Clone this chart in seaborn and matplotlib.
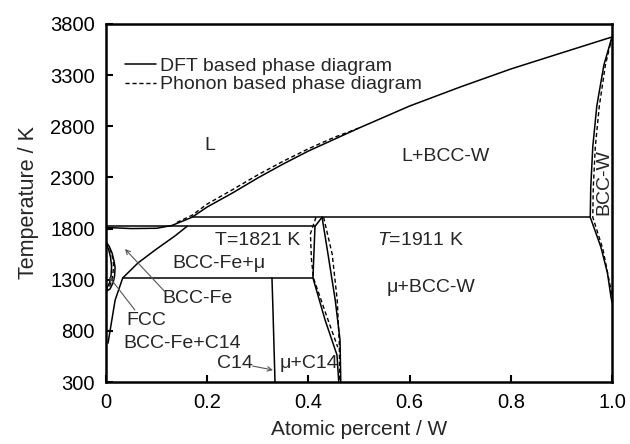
import numpy as np
import pandas as pd
import matplotlib
matplotlib.use("Agg")
import matplotlib.pyplot as plt
import seaborn as sns
from matplotlib.lines import Line2D

sns.set_theme(style="ticks")
plt.rcParams['font.family'] = ['Liberation Sans', 'DejaVu Sans']
plt.rcParams['mathtext.fontset'] = 'custom'
plt.rcParams['mathtext.it'] = 'Liberation Sans:italic'
plt.rcParams['mathtext.rm'] = 'Liberation Sans'

# ---------------- data (x = atomic fraction W, T in K) ----------------
# DFT based (solid)
liq_x = [0.0, 0.05, 0.10, 0.13, 0.16, 0.17, 0.20, 0.25, 0.30, 0.35, 0.40, 0.50, 0.60, 0.70, 0.80, 0.90, 1.0]
liq_T = [1811, 1800, 1803, 1830, 1890, 1911, 2011, 2148, 2295, 2431, 2558, 2783, 2998, 3184, 3360, 3517, 3673]

bccfe_x = [0.004, 0.008, 0.018, 0.033, 0.063, 0.097, 0.136, 0.16]
bccfe_T = [680, 800, 1100, 1317, 1463, 1590, 1727, 1821]

fcc_out_x = [0.0, 0.006, 0.012, 0.016, 0.018, 0.017, 0.014, 0.008, 0.0]
fcc_out_T = [1667, 1630, 1560, 1480, 1420, 1340, 1270, 1210, 1185]
fcc_in_x = [0.0, 0.005, 0.009, 0.011, 0.010, 0.007, 0.0]
fcc_in_T = [1650, 1600, 1520, 1430, 1340, 1270, 1200]

iso1821_x = [0.0, 0.413]
iso1821_T = [1821, 1821]
iso1911_x = [0.17, 0.957]
iso1911_T = [1911, 1911]
iso1317_x = [0.033, 0.409]
iso1317_T = [1317, 1317]

c14_x = [0.328, 0.330, 0.332, 0.334]
c14_T = [1317, 1000, 650, 300]

mu_left_x = [0.427, 0.413, 0.409, 0.433, 0.4565, 0.460]
mu_left_T = [1911, 1821, 1317, 906, 564, 300]
mu_right_x = [0.427, 0.439, 0.453, 0.4625, 0.464]
mu_right_T = [1911, 1542, 1102, 711, 300]

bccw_sol_x = [1.0, 0.984, 0.970, 0.962, 0.958, 0.957]
bccw_sol_T = [3673, 3400, 3000, 2600, 2200, 1911]
bccw_solv_x = [0.957, 0.978, 0.991, 0.998, 1.0]
bccw_solv_T = [1911, 1620, 1366, 1131, 1080]

# Phonon based (dashed)
liq_d_x = [0.14, 0.17, 0.20, 0.25, 0.30, 0.35, 0.40, 0.45, 0.50]
liq_d_T = [1860, 1930, 2040, 2180, 2325, 2458, 2580, 2690, 2783]

mu_left_d_x = [0.415, 0.404, 0.406, 0.410, 0.435, 0.458]
mu_left_d_T = [1911, 1750, 1500, 1317, 960, 640]
mu_right_d_x = [0.430, 0.447, 0.457, 0.461, 0.462]
mu_right_d_T = [1911, 1550, 1100, 680, 300]

bccw_d_x = [1.0, 0.987, 0.975, 0.967, 0.963, 0.962, 0.982, 0.994, 1.0]
bccw_d_T = [3673, 3400, 3000, 2600, 2200, 1911, 1600, 1300, 1150]

fcc_d_x = [0.0, 0.008, 0.014, 0.015, 0.012, 0.006, 0.0]
fcc_d_T = [1660, 1600, 1500, 1420, 1300, 1220, 1195]

solid_curves = {
    "liquidus": (liq_x, liq_T), "bccfe": (bccfe_x, bccfe_T),
    "fcc_out": (fcc_out_x, fcc_out_T), "fcc_in": (fcc_in_x, fcc_in_T),
    "iso1821": (iso1821_x, iso1821_T), "iso1911": (iso1911_x, iso1911_T),
    "iso1317": (iso1317_x, iso1317_T), "c14": (c14_x, c14_T),
    "mu_left": (mu_left_x, mu_left_T), "mu_right": (mu_right_x, mu_right_T),
    "bccw_sol": (bccw_sol_x, bccw_sol_T), "bccw_solv": (bccw_solv_x, bccw_solv_T),
}
dashed_curves = {
    "liq_d": (liq_d_x, liq_d_T), "mu_left_d": (mu_left_d_x, mu_left_d_T),
    "mu_right_d": (mu_right_d_x, mu_right_d_T), "bccw_d": (bccw_d_x, bccw_d_T),
    "fcc_d": (fcc_d_x, fcc_d_T),
}

x_ticks = [0, 0.2, 0.4, 0.6, 0.8, 1.0]
x_ticklabels = ["0", "0.2", "0.4", "0.6", "0.8", "1.0"]
y_ticks = [300, 800, 1300, 1800, 2300, 2800, 3300, 3800]

# ---------------- figure ----------------
fig = plt.figure(figsize=(6.3, 4.44), dpi=100)
ax = fig.add_axes([106/630, 1-382/444, 506/630, 358/444])

for name, (xs, ts) in solid_curves.items():
    df = pd.DataFrame({"x": xs, "T": ts})
    sns.lineplot(data=df, x="x", y="T", sort=False, estimator=None, color="black", lw=1.1, ax=ax)
for name, (xs, ts) in dashed_curves.items():
    df = pd.DataFrame({"x": xs, "T": ts})
    sns.lineplot(data=df, x="x", y="T", sort=False, estimator=None, color="black", lw=1.0,
                 dashes=False, ax=ax, linestyle=(0, (3, 2)))

ax.set_xlim(0, 1.0)
ax.set_ylim(300, 3800)
ax.set_xticks(x_ticks)
ax.set_xticklabels(x_ticklabels)
ax.set_yticks(y_ticks)
ax.tick_params(axis="both", direction="in", length=5, width=1.5, labelsize=14.5,
               top=False, right=False, colors="black")
ax.tick_params(axis="x", pad=8)
ax.tick_params(axis="y", pad=8)
for sp in ax.spines.values():
    sp.set_visible(True)
    sp.set_linewidth(1.8)
    sp.set_color("black")
ax.set_xlabel("Atomic percent / W", fontsize=15, labelpad=6)
ax.set_ylabel("Temperature / K", fontsize=15.5, labelpad=8)

fs = 14
ax.text(0.206, 2617, "L", fontsize=fs, ha="center", va="center")
ax.text(0.670, 2500, "L+BCC-W", fontsize=fs, ha="center", va="center")
ax.text(0.983, 2255, "BCC-W", fontsize=fs, ha="center", va="center", rotation=90)
ax.text(0.300, 1688, "T=1821 K", fontsize=fs, ha="center", va="center")
ax.text(0.621, 1688, r"$T$=1911 K", fontsize=fs, ha="center", va="center")
ax.text(0.223, 1463, "BCC-Fe+μ", fontsize=fs, ha="center", va="center")
ax.text(0.642, 1219, "μ+BCC-W", fontsize=fs, ha="center", va="center")
ax.text(0.180, 1121, "BCC-Fe", fontsize=fs, ha="center", va="center")
ax.text(0.079, 906, "FCC", fontsize=fs, ha="center", va="center")
ax.text(0.150, 681, "BCC-Fe+C14", fontsize=fs, ha="center", va="center")
ax.text(0.255, 476, "C14", fontsize=fs, ha="center", va="center")
ax.text(0.401, 476, "μ+C14", fontsize=fs, ha="center", va="center")

arrow_kw = dict(arrowstyle="->", color="#555555", lw=0.8, shrinkA=0, shrinkB=0,
                mutation_scale=8)
ax.annotate("", xy=(0.0375, 1600), xytext=(0.117, 1180), arrowprops=arrow_kw)
ax.annotate("", xy=(0.006, 1330), xytext=(0.057, 1004), arrowprops=arrow_kw)
ax.annotate("", xy=(0.330, 417), xytext=(0.290, 456), arrowprops=arrow_kw)

handles = [Line2D([], [], color="black", lw=1.1, ls="-"),
           Line2D([], [], color="black", lw=1.0, ls=(0, (3, 2)))]
ax.legend(handles, ["DFT based phase diagram", "Phonon based phase diagram"],
          loc="upper left", bbox_to_anchor=(0.015, 0.94), frameon=False, fontsize=14,
          handlelength=1.6, handletextpad=0.2, labelspacing=0.05, borderpad=0.1)

fig.savefig("out.png", dpi=100)
